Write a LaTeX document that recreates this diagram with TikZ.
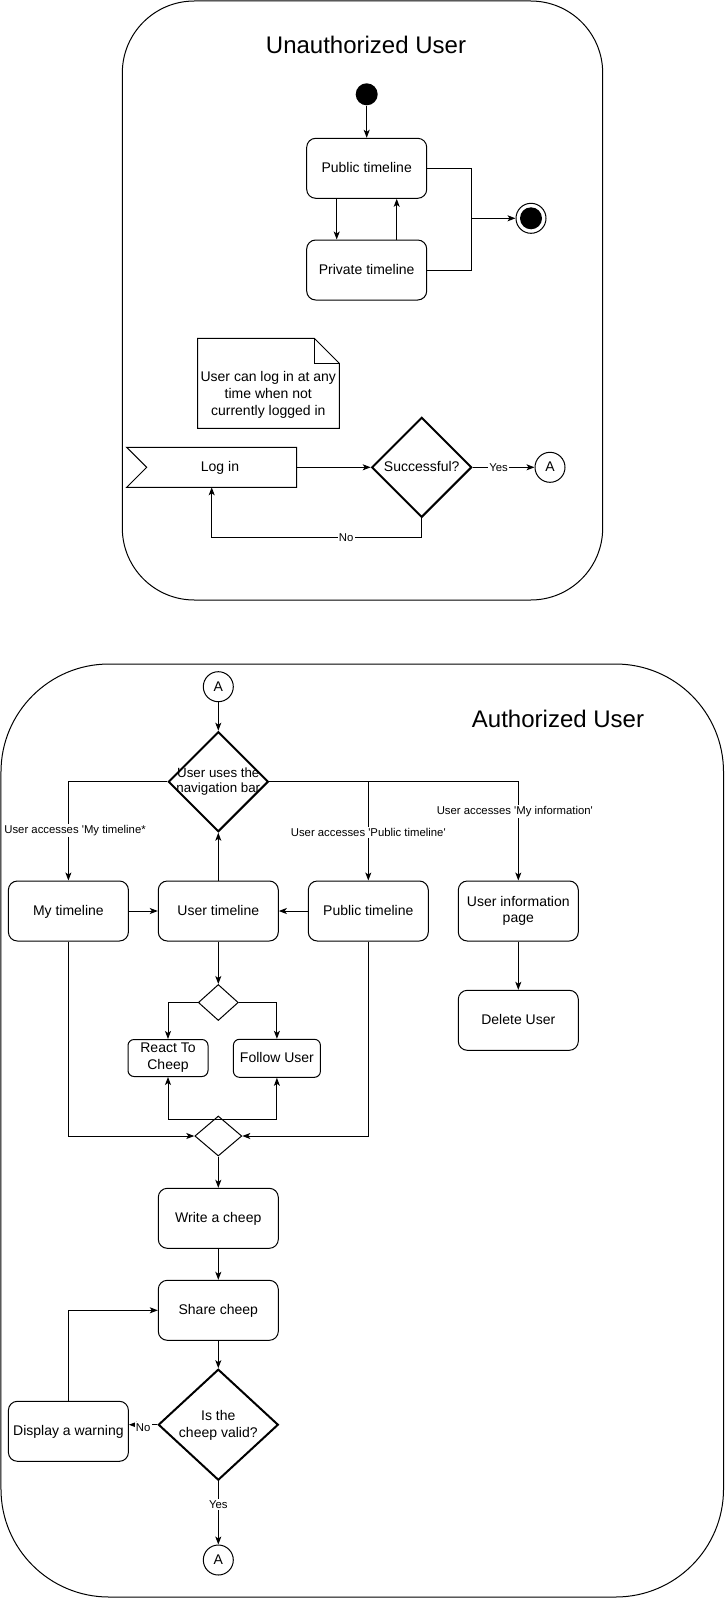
\documentclass[tikz,border=0pt]{standalone}
\usepackage{fontspec}
\setmainfont{Liberation Sans}
\usetikzlibrary{arrows.meta,shapes.geometric}
\newcommand{\myq}{\textquotesingle}
\newcommand{\mystrut}{\rule[-2.5pt]{0pt}{12pt}}
\begin{document}
\begin{tikzpicture}[x=0.75pt,y=-0.75pt, line width=0.75pt,
  every node/.style={font=\fontsize{10.5}{12.5}\selectfont, text=black},
  st/.style={execute at begin node=\mystrut, execute at end node=\mystrut},
  box/.style={draw, rounded corners=6.75pt, minimum width=90pt, minimum height=45pt, align=center, inner sep=2pt, st},
  dia/.style={draw, diamond, line width=1.5pt, inner sep=0pt},
  sdia/.style={draw, diamond, inner sep=0pt},
  arr/.style={-{Stealth[length=6pt,width=4.5pt,inset=1.5pt]}},
  lbl/.style={fill=white, inner sep=1pt, font=\fontsize{8.5}{10}\selectfont},
  circ/.style={draw, circle, minimum size=22.5pt, inner sep=0pt},
  ttl/.style={font=\fontsize{18}{22}\selectfont},
  dot/.style={circle, fill=black, minimum size=16.5pt, inner sep=0pt},
  blank/.style={inner sep=0pt, outer sep=0pt}
]
\useasboundingbox (0,0) rectangle (725,1598);

% containers
\node[draw, rounded corners=54pt, minimum width=360.3pt, minimum height=449.25pt, inner sep=0pt] (c1) at (362.5,300.5) {};
\node[draw, rounded corners=81pt, minimum width=541.9pt, minimum height=699.75pt, inner sep=0pt] (c2) at (362.25,1130.5) {};

% ---------- Unauthorized ----------
\node[ttl] (t1) at (366,45) {Unauthorized User};
\node[dot] (start) at (366.7,94.3) {};
\node[box] (pub1) at (366.7,168.3) {Public timeline};
\node[box] (priv1) at (366.7,270) {Private timeline};
\coordinate (jn) at (471.7,218.3);
\node[circ] (end) at (531,218.3) {};
\node[dot] (endin) at (531,218.3) {};

% note
\node[blank, minimum width=106.2pt, minimum height=67.5pt] (note) at (268.5,383.3) {};
\draw (note.north west) -- ([xshift=-18.75pt]note.north east) -- ([yshift=-18.75pt]note.north east) -- (note.south east) -- (note.south west) -- cycle;
\draw ([xshift=-18.75pt]note.north east) -- ([xshift=-18.75pt,yshift=-18.75pt]note.north east) -- ([yshift=-18.75pt]note.north east);
\node[align=center, st] (notet) at (268.3,395) {User can log in at any\\time when not\\currently logged in};

% log in
\node[blank, minimum width=127.5pt, minimum height=30pt] (login) at (211.7,467.3) {};
\draw (login.north west) -- (login.north east) -- (login.south east) -- (login.south west) -- ([xshift=15pt]login.west) -- cycle;
\node[st] (logint) at (220,467.3) {Log in};

\node[dia, minimum width=75pt, minimum height=75pt] (succ) at (421.7,467.3) {};
\node[st] (succt) at (421.7,467.3) {Successful?};
\node[circ, st] (a1) at (550,467.3) {A};
\coordinate (nob) at (211.7,537.3);

\draw[arr] (start) -- (pub1);
\draw[arr] ([xshift=-22.5pt]pub1.south) -- ([xshift=-22.5pt]priv1.north);
\draw[arr] ([xshift=22.5pt]priv1.north) -- ([xshift=22.5pt]pub1.south);
\draw (pub1.east) -| (jn);
\draw (priv1.east) -| (jn);
\draw[arr] (jn) -- (end);
\draw[arr] (login.east) -- (succ.west);
\draw[arr] (succ.east) -- node[lbl, pos=0.42]{Yes} (a1);
\draw[arr] (succ.south) |- node[lbl, pos=0.68]{No} (nob) -- (login.south);

% ---------- Authorized ----------
\node[ttl] (t2) at (558,719) {Authorized User};
\node[circ, st] (a2) at (218.3,686.7) {A};
\node[dia, minimum width=75pt, minimum height=75pt] (nav) at (218.3,781.7) {};
\node[align=center, font=\fontsize{10}{11}\selectfont, st] (navt) at (218.3,781.7) {User uses the\\navigation bar};

\node[box] (mytl) at (68.4,911) {My timeline};
\node[box] (utl) at (218.3,911) {User timeline};
\node[box] (pubtl) at (368.3,911) {Public timeline};
\node[box] (uinfo) at (518.3,911) {User information\\page};
\node[box] (del) at (518.3,1020.3) {Delete User};

\node[sdia, minimum width=30pt, minimum height=27pt] (sd) at (218.3,1002.5) {};
\node[box, minimum width=60pt, minimum height=27.75pt, rounded corners=4.5pt, inner sep=1pt] (react) at (168,1058) {React To\\Cheep};
\node[box, minimum width=65.25pt, minimum height=28.5pt, rounded corners=4.5pt, inner sep=1pt] (follow) at (276.9,1058.3) {Follow User};
\node[sdia, minimum width=35.25pt, minimum height=30pt] (jd) at (218.3,1136) {};
\coordinate (jt) at (218.3,1119.3);

\node[box] (write) at (218.3,1218.3) {Write a cheep};
\node[box] (share) at (218.3,1310.3) {Share cheep};
\node[dia, minimum width=90pt, minimum height=83.25pt] (valid) at (218.3,1424.7) {};
\node[align=center, st] (validt) at (218.3,1425.5) {Is the\\cheep valid?};
\node[box] (warn) at (68.4,1431.3) {Display a warning};
\node[circ, st] (a3) at (218.3,1560) {A};

\draw[arr] (a2) -- (nav);
\draw[arr] (nav.west) -| node[lbl, pos=0.745, xshift=5pt]{User accesses \myq My timeline*} (mytl.north);
\draw[arr] (nav.east) -| node[lbl, pos=0.756]{User accesses \myq Public timeline\myq} (pubtl.north);
\draw[arr] (nav.east) -| node[lbl, pos=0.65, xshift=-2.6pt]{User accesses \myq My information\myq} (uinfo.north);
\draw[arr] (mytl) -- (utl);
\draw[arr] (pubtl) -- (utl);
\draw[arr] (utl) -- (nav);
\draw[arr] (utl) -- (sd);
\draw[arr] (sd.west) -| (react.north);
\draw[arr] (sd.east) -| (follow.north);
\draw[arr] (jt) -| (react.south);
\draw[arr] (jt) -| (follow.south);
\draw[arr] (mytl.south) |- (jd.west);
\draw[arr] (pubtl.south) |- (jd.east);
\draw[arr] (jd) -- (write);
\draw[arr] (write) -- (share);
\draw[arr] (share) -- (valid);
\draw[arr] (valid.west) -- node[lbl, pos=0.5, yshift=-2pt]{No} (warn.east |- valid.west);
\draw[arr] (warn.north) |- (share.west);
\draw[arr] (valid) -- node[lbl, pos=0.37]{Yes} (a3);
\draw[arr] (uinfo) -- (del);
\end{tikzpicture}
\end{document}
